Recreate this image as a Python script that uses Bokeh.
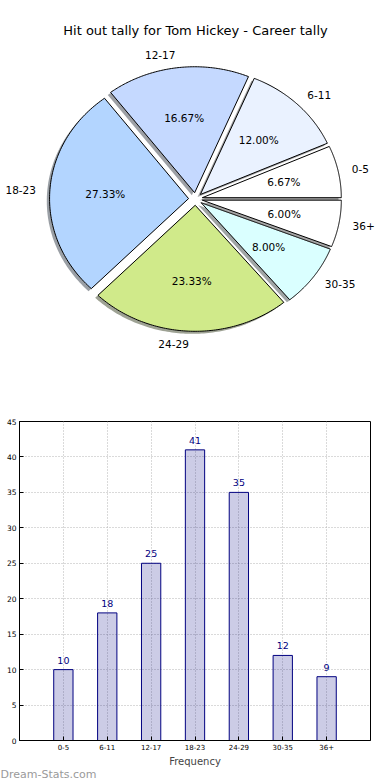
import numpy as np
from bokeh.plotting import figure
from bokeh.models import Range1d, Label, FixedTicker, ColumnDataSource, Title
from bokeh.core.properties import value
from bokeh.embed import file_html
from bokeh.resources import INLINE

# ---------------- data ----------------
chart_title = "Hit out tally for Tom Hickey - Career tally"
categories = ["0-5", "6-11", "12-17", "18-23", "24-29", "30-35", "36+"]
tally = [10, 18, 25, 41, 35, 12, 9]
slice_colors = ["#ffffff", "#eaf2ff", "#c5d9ff", "#b3d5ff", "#d0ea8a", "#daffff", "#ffffff"]
y_ticks = [0, 5, 10, 15, 20, 25, 30, 35, 40, 45]
x_axis_label = "Frequency"
watermark = "Dream-Stats.com"

FONT = value("DejaVu Sans")

# ---------------- layout constants (pixels) ----------------
W = 390
H_PIE = 390
H_BAR = 390
BL, BR = 19, 20            # left / right borders of the bar chart
CX, CY = 195.0, 198.5      # pie centre in pixels
RX, RY = 139.0, 126.0      # pie radii in pixels (stretched axes)
EXPLODE = 0.05
SHADOW = 0.02

# ---------------- pie ----------------
p1 = figure(width=W, height=H_PIE, output_backend="svg", toolbar_location=None,
            x_range=Range1d(-CX / RX, (W - CX) / RX),
            y_range=Range1d(-(H_PIE - CY) / RY, CY / RY),
            min_border=0)
p1.axis.visible = False
p1.grid.visible = False
p1.outline_line_color = None

vals = np.array(tally, dtype=float)
frac = vals / vals.sum()
edges = np.concatenate([[0.0], np.cumsum(frac)]) * 2 * np.pi

def hex_scale(c, k):
    c = c.lstrip("#")
    r, g, b = (int(c[i:i + 2], 16) for i in (0, 2, 4))
    return "#%02x%02x%02x" % (int(r * k), int(g * k), int(b * k))

xs, ys, fills, falpha, lalpha = [], [], [], [], []
lab_x, lab_y, lab_align = [], [], []
pct_x, pct_y, pct_txt = [], [], []
for i in range(len(tally)):
    t1, t2 = edges[i], edges[i + 1]
    tm = 0.5 * (t1 + t2)
    ox, oy = EXPLODE * np.cos(tm), EXPLODE * np.sin(tm)
    arc = np.linspace(t1, t2, 90)
    wx = np.concatenate([[ox], ox + np.cos(arc)])
    wy = np.concatenate([[oy], oy + np.sin(arc)])
    # shadow first, then the wedge itself
    xs.append(list(wx - SHADOW)); ys.append(list(wy - SHADOW))
    fills.append(hex_scale(slice_colors[i], 0.3)); falpha.append(0.5); lalpha.append(0.0)
    xs.append(list(wx)); ys.append(list(wy))
    fills.append(slice_colors[i]); falpha.append(1.0); lalpha.append(1.0)
    lx = ox + 1.1 * np.cos(tm)
    ly = oy + 1.1 * np.sin(tm)
    lab_x.append(lx); lab_y.append(ly)
    lab_align.append("left" if lx > 0 else "right")
    pct_x.append(ox + 0.6 * np.cos(tm)); pct_y.append(oy + 0.6 * np.sin(tm))
    pct_txt.append("%.2f%%" % (100 * frac[i]))

src = ColumnDataSource(dict(xs=xs, ys=ys, fill=fills, falpha=falpha, lalpha=lalpha))
p1.patches(xs="xs", ys="ys", fill_color="fill", fill_alpha="falpha",
           line_color="black", line_alpha="lalpha", line_width=1, source=src)

lab_src = ColumnDataSource(dict(x=lab_x, y=lab_y, t=categories, a=lab_align))
p1.text(x="x", y="y", text="t", text_align="a", text_baseline="middle",
        text_font=FONT, text_font_size=value("10.5px"), text_color="black", source=lab_src)
p1.text(x=pct_x, y=pct_y, text=pct_txt, text_align="center", text_baseline="middle",
        text_font=FONT, text_font_size=value("10.5px"), text_color="black")

p1.add_layout(Label(x=CX, y=H_PIE - 30, x_units="screen", y_units="screen",
                    text=chart_title, text_align="center", text_baseline="middle",
                    text_font="DejaVu Sans", text_font_size="13px", text_color="black"))

# ---------------- bars ----------------
idx = list(range(len(categories)))
p2 = figure(width=W, height=H_BAR, output_backend="svg", toolbar_location=None,
            x_range=Range1d(-1, 7), y_range=Range1d(0, 45),
            min_border_left=BL, min_border_right=BR, min_border_top=31, min_border_bottom=40)
p2.outline_line_color = "black"
p2.outline_line_width = 1

p2.vbar(x=idx, top=tally, width=0.44, fill_color="#000080", fill_alpha=0.2,
        line_color="#000080", line_width=1)
p2.text(x=idx, y=tally, text=[str(v) for v in tally], text_align="center",
        text_baseline="bottom", y_offset=-6, text_color="#000080",
        text_font=FONT, text_font_size=value("9.5px"))

p2.xaxis.ticker = FixedTicker(ticks=idx)
p2.xaxis.major_label_overrides = {i: c for i, c in zip(idx, categories)}
p2.yaxis.ticker = FixedTicker(ticks=y_ticks)
for ax in (p2.xaxis[0], p2.yaxis[0]):
    ax.axis_line_color = "black"
    ax.major_tick_in = 4
    ax.major_tick_out = 0
    ax.minor_tick_line_color = None
    ax.major_tick_line_color = "black"
    ax.major_label_text_font = "DejaVu Sans"
    ax.major_label_text_color = "black"
    ax.major_label_standoff = 3
p2.xaxis.major_label_text_font_size = "7px"
p2.yaxis.major_label_text_font_size = "7.5px"
p2.xaxis.axis_label = x_axis_label
p2.xaxis.axis_label_text_font = "DejaVu Sans"
p2.xaxis.axis_label_text_font_style = "normal"
p2.xaxis.axis_label_text_font_size = "10px"
p2.xaxis.axis_label_standoff = 3

p2.grid.grid_line_color = "#b4b4b4"
p2.grid.grid_line_dash = "1 2"
p2.grid.grid_line_width = 1
p2.xgrid.ticker = FixedTicker(ticks=idx)
p2.ygrid.ticker = FixedTicker(ticks=y_ticks)

p2.add_layout(Title(text=watermark, align="left", offset=-BL, standoff=-6,
                    vertical_align="middle",
                    text_font="DejaVu Sans", text_font_size="11px",
                    text_font_style="normal", text_color="#9a9a9a"), "below")

open("out.html", "w").write(file_html([p1, p2], INLINE))
